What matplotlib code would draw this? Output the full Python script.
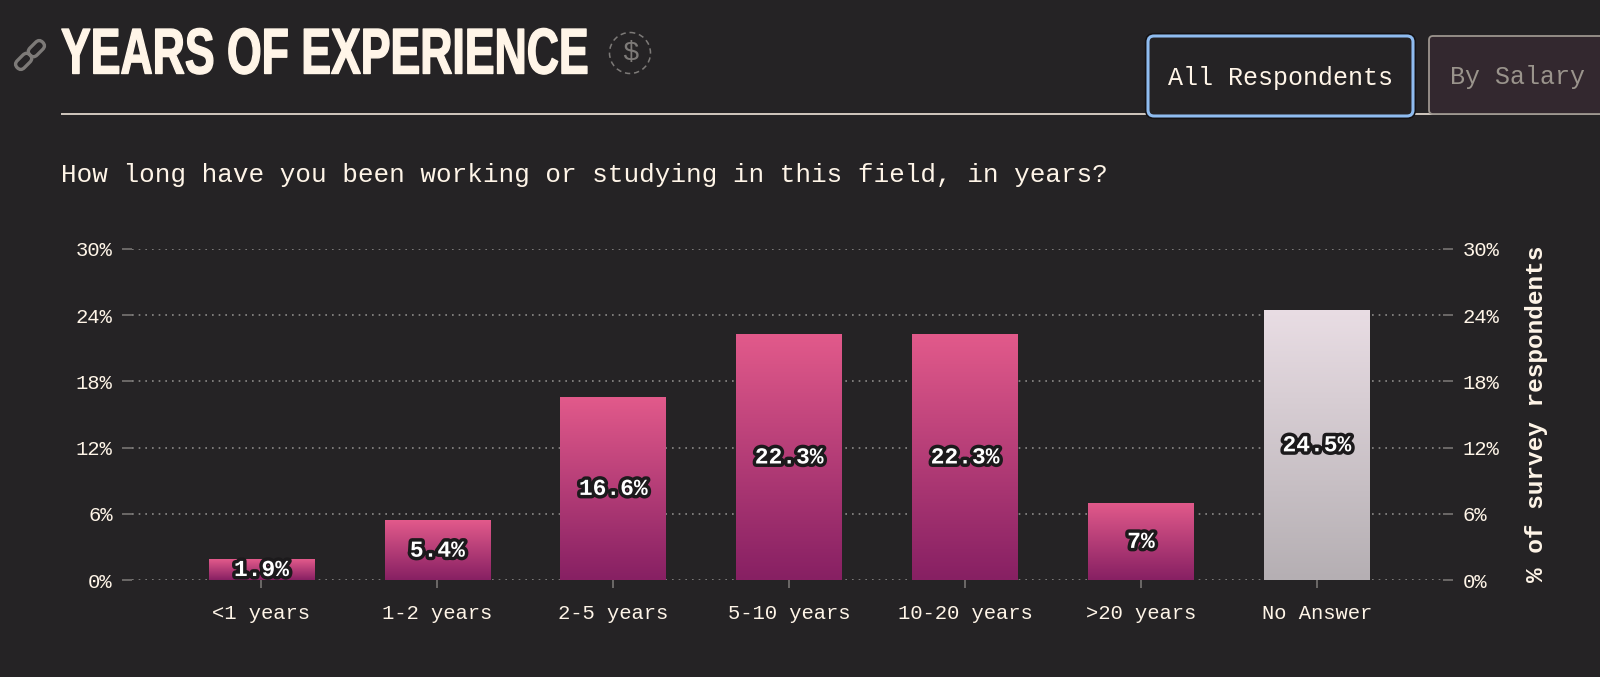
import numpy as np
import matplotlib
matplotlib.use("Agg")
import matplotlib.pyplot as plt
import matplotlib.patheffects as pe
from matplotlib.patches import FancyBboxPatch, Circle
from matplotlib.transforms import Affine2D

categories = ["<1 years", "1-2 years", "2-5 years", "5-10 years", "10-20 years", ">20 years", "No Answer"]
values = [1.9, 5.4, 16.6, 22.3, 22.3, 7, 24.5]
y_ticks = [0, 6, 12, 18, 24, 30]
title_text = "YEARS OF EXPERIENCE"
question = "How long have you been working or studying in this field, in years?"
axis_title = "% of survey respondents"
tab_labels = ["All Respondents", "By Salary"]

BG = "#252325"
CREAM = "#fff5e8"
W, H = 1600, 677
MONO = ["Liberation Mono", "DejaVu Sans Mono"]


class Tall(pe.AbstractPathEffect):
    # stretches the glyphs up from baseline y0 (display px), the condensed title font is not installed
    def __init__(self, y0, sy, bold):
        super().__init__()
        self.y0, self.sy, self.bold = y0, sy, bold

    def draw_path(self, renderer, gc, tpath, affine, rgbFace):
        aff = affine + Affine2D().translate(0, -self.y0).scale(1, self.sy).translate(0, self.y0)
        gc0 = renderer.new_gc()
        gc0.copy_properties(gc)
        gc0.set_linewidth(self.bold)
        gc0.set_foreground(rgbFace)
        renderer.draw_path(gc0, tpath, aff, rgbFace)
        gc0.restore()


def hex_rgb(c):
    return np.array(matplotlib.colors.to_rgb(c))


def gradient_fill(ax, bar, top, bottom):
    g = np.linspace(0, 1, 128)[:, None, None]
    img = hex_rgb(top) * (1 - g) + hex_rgb(bottom) * g
    x0, x1 = bar.get_x(), bar.get_x() + bar.get_width()
    im = ax.imshow(img, extent=(x0, x1, 0, bar.get_height()), origin="upper", aspect="auto", zorder=2.5)
    im.set_clip_path(bar)


fig = plt.figure(figsize=(W / 100, H / 100), dpi=100, facecolor=BG)
ax = fig.add_axes([132 / W, 1 - 580 / H, (1443 - 132) / W, (580 - 249) / H], facecolor=BG)

x = np.arange(len(categories))
bars = ax.bar(x, values, width=0.6, color="none", zorder=2)
for i, bar in enumerate(bars):
    if categories[i] == "No Answer":
        gradient_fill(ax, bar, "#e9dde4", "#b5afb3")
    else:
        gradient_fill(ax, bar, "#e25a8b", "#872063")

halo = [pe.withStroke(linewidth=5, foreground="#1c1a1c")]
for i, v in enumerate(values):
    ax.text(i, v / 2, f"{v}%", ha="center", va="center", color="white", fontsize=16.5, weight="bold",
            family=MONO, path_effects=halo, zorder=4)

ax.set_xlim(-0.736, 6.717)
ax.set_ylim(0, 30)
ax.set_yticks(y_ticks)
ax.set_yticklabels([f"{t}%" for t in y_ticks], family=MONO, fontsize=14.8, color=CREAM)
ax.set_xticks(x)
ax.set_xticklabels(categories, family=MONO, fontsize=14.8, color=CREAM)
ax.tick_params(axis="y", left=True, right=True, labelleft=True, labelright=True, length=7, width=1.2,
               color="#777472", pad=7)
ax.tick_params(axis="x", length=6, width=1.2, color="#777472", pad=11)
ax.grid(axis="y", color="#8c8a88", linestyle=(0, (1, 3)), linewidth=1.2, zorder=1)
ax.set_axisbelow(True)
for s in ax.spines.values():
    s.set_visible(False)

# page furniture, in reference pixels
ov = fig.add_axes([0, 0, 1, 1], facecolor="none", zorder=5)
ov.set_xlim(0, W)
ov.set_ylim(H, 0)
ov.axis("off")

ov.text(61, 73.5, title_text, family=["Liberation Sans Narrow", "Liberation Sans"], weight="bold",
        fontsize=32.1, color=CREAM, va="baseline", ha="left",
        path_effects=[Tall(H - 73.5, 1.45, 1.0)])
ov.plot([61, W], [114, 114], color=CREAM, lw=1.1, zorder=1, solid_capstyle="butt")
ov.add_patch(Circle((630, 53), 20.5, fill=False, ec="#7d7a78", lw=1.1, ls=(0, (3.5, 2.5))))
ov.text(630, 53, "$", family=MONO, fontsize=20, color="#7d7a78", ha="center", va="center")

# link icon
rot = Affine2D().rotate_deg_around(30, 55, -45) + ov.transData
for cx in [21, 39]:
    ov.add_patch(FancyBboxPatch((cx - 9, 50), 18, 10, boxstyle="round,pad=0,rounding_size=5", fill=False,
                                ec="#7d7a78", lw=2.4, transform=rot))

ov.add_patch(FancyBboxPatch((1429, 36), 190, 78, boxstyle="round,pad=0,rounding_size=4", fc="#33282f",
                            ec="#9c958e", lw=1.3, zorder=2))
ov.add_patch(FancyBboxPatch((1148, 36), 265, 80, boxstyle="round,pad=0,rounding_size=6", fc=BG,
                            ec="#8fbcf0", lw=2.2, zorder=3,
                            path_effects=[pe.withStroke(linewidth=4.5, foreground="#141214")]))
ov.text(1168, 78, tab_labels[0], family=MONO, fontsize=18, color=CREAM, va="center", zorder=4)
ov.text(1450, 77, tab_labels[1], family=MONO, fontsize=18, color="#9a948c", va="center", zorder=4)

ov.text(61, 175, question, family=MONO, fontsize=18.7, color=CREAM, va="center")
ov.text(1537, 414, axis_title, family=MONO, fontsize=17.6, weight="bold", color=CREAM, rotation=90,
        ha="center", va="center")

fig.savefig("out.png", dpi=100, facecolor=BG)
